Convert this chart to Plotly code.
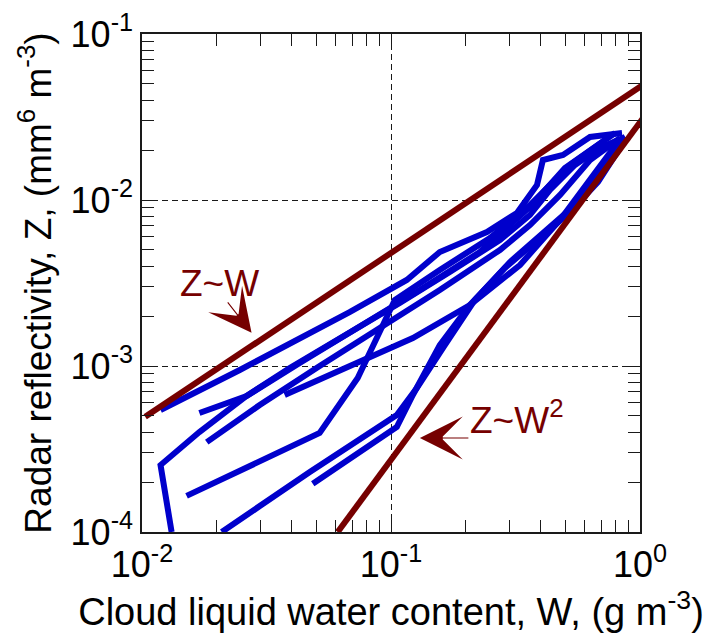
import plotly.graph_objects as go

# ---- data ----
# Blue measured curves: W (g m^-3), Z (mm^6 m^-3)
w_a = [0.01187, 0.0247, 0.0682, 0.1157, 0.157, 0.2427, 0.3205, 0.3858, 0.4074, 0.4907, 0.630, 0.847]
z_a = [0.000543, 0.000946, 0.00211, 0.0033, 0.00486, 0.00641, 0.00835, 0.01231, 0.01742, 0.01867, 0.02396, 0.02533]

w_b = [0.0170, 0.0263, 0.0392, 0.0682, 0.1085, 0.1723, 0.2738, 0.3614, 0.435, 0.548, 0.691, 0.871]
z_b = [0.000521, 0.00066, 0.000973, 0.00158, 0.0024, 0.00368, 0.00574, 0.00812, 0.01149, 0.01625, 0.02057, 0.02396]

w_c = [0.0182, 0.0297, 0.0517, 0.0902, 0.157, 0.2738, 0.3614, 0.4774, 0.630, 0.832]
z_c = [0.000348, 0.000582, 0.001, 0.0017, 0.00287, 0.005, 0.00707, 0.01072, 0.01742, 0.02363]

w_d = [0.0374, 0.0749, 0.1224, 0.2074, 0.3296, 0.4774, 0.630, 0.772, 0.871]
z_d = [0.000669, 0.001057, 0.001475, 0.00233, 0.00406, 0.00758, 0.0132, 0.0200, 0.02396]

w_e = [0.01315, 0.01187, 0.0170, 0.0263, 0.0430, 0.0749, 0.1305, 0.2275, 0.3614, 0.4995, 0.794]
z_e = [0.0001, 0.000253, 0.0004, 0.00066, 0.001043, 0.001718, 0.00287, 0.00486, 0.00908, 0.0156, 0.02533]

w_f = [0.0151, 0.0517, 0.0735, 0.0902, 0.1036, 0.157, 0.2496, 0.3614, 0.5236, 0.724]
z_f = [0.000165, 0.000395, 0.000847, 0.0016, 0.0025, 0.00379, 0.0059, 0.00933, 0.01625, 0.02298]

w_g = [0.0209, 0.0472, 0.1055, 0.127, 0.1645, 0.2173, 0.3003, 0.4153, 0.548, 0.691, 0.871]
z_g = [0.0001, 0.00023, 0.000507, 0.000737, 0.001338, 0.0025, 0.00423, 0.00641, 0.00933, 0.01415, 0.02396]

w_h = [0.0485, 0.1055, 0.1224, 0.157, 0.2074, 0.2868, 0.3963, 0.5236, 0.6786, 0.871]
z_h = [0.000195, 0.000429, 0.000669, 0.001338, 0.00233, 0.0039, 0.0059, 0.00847, 0.01284, 0.02298]

blue_w = [w_a, w_b, w_c, w_d, w_e, w_f, w_g, w_h]
blue_z = [z_a, z_b, z_c, z_d, z_e, z_f, z_g, z_h]

# Reference power laws
zw_w = [0.0103, 1.03]
zw_z = [0.000494, 0.0494]
zw2_w = [0.0611, 1.03]
zw2_z = [0.0001, 0.0312]

# Tick labels
x_tickvals = [0.01, 0.1, 1]
x_ticktext = ["10<sup>-2</sup>", "10<sup>-1</sup>", "10<sup>0</sup>"]
y_tickvals = [0.0001, 0.001, 0.01, 0.1]
y_ticktext = ["10<sup>-4</sup>", "10<sup>-3</sup>", "10<sup>-2</sup>", "10<sup>-1</sup>"]

BLUE = "#0000cc"
BROWN = "#760000"
FONT = "Liberation Sans, Arial, Helvetica, sans-serif"
INK = "#1a1a1a"

fig = go.Figure()
for w, z in zip(blue_w, blue_z):
    fig.add_trace(go.Scatter(x=w, y=z, mode="lines",
                             line=dict(color=BLUE, width=6), showlegend=False))
fig.add_trace(go.Scatter(x=zw_w, y=zw_z, mode="lines",
                         line=dict(color=BROWN, width=6), showlegend=False))
fig.add_trace(go.Scatter(x=zw2_w, y=zw2_z, mode="lines",
                         line=dict(color=BROWN, width=6), showlegend=False))
# invisible trace that activates the mirrored (top/right) tick axes
fig.add_trace(go.Scatter(x=zw_w, y=zw_z, mode="lines", xaxis="x2", yaxis="y2",
                         line=dict(color="rgba(0,0,0,0)", width=0),
                         hoverinfo="skip", showlegend=False))

minor_ticks = dict(ticks="inside", ticklen=12, tickwidth=1.2, tickcolor=INK,
                   tickmode="linear", dtick="D1", showgrid=False)

axis_common = dict(
    type="log",
    showgrid=True, gridcolor=INK, griddash="6px,4px", gridwidth=1,
    ticks="inside", ticklen=12, tickwidth=1.2, tickcolor=INK,
    showline=True, linecolor=INK, linewidth=1.5, mirror=True,
    zeroline=False,
    minor=minor_ticks,
    tickfont=dict(family=FONT, size=36, color="black"),
)
mirror_common = dict(
    type="log", showgrid=False, showline=False, zeroline=False,
    ticks="inside", ticklen=12, tickwidth=1.2, tickcolor=INK,
    showticklabels=False, minor=minor_ticks,
)

fig.update_layout(
    xaxis=dict(range=[-2, 0], tickmode="array", tickvals=x_tickvals, ticktext=x_ticktext,
               **axis_common,
               title=dict(text="Cloud liquid water content, W, (g m<sup>-3</sup>)",
                          font=dict(family=FONT, size=38, color="black"), standoff=0)),
    yaxis=dict(range=[-4, -1], tickmode="array", tickvals=y_tickvals, ticktext=y_ticktext,
               **axis_common,
               title=dict(text="Radar reflectivity, Z, (mm<sup>6</sup> m<sup>-3</sup>)",
                          font=dict(family=FONT, size=37, color="black"), standoff=8)),
    xaxis2=dict(range=[-2, 0], overlaying="x", side="top", anchor="y",
                tickmode="linear", dtick=1, **mirror_common),
    yaxis2=dict(range=[-4, -1], overlaying="y", side="right", anchor="x",
                tickmode="linear", dtick=1, **mirror_common),
)

ann_font = dict(family=FONT, size=37, color=BROWN)
fig.add_annotation(x=-1.857, y=-2.5, xref="x", yref="y", text="Z~W",
                   showarrow=False, xanchor="left", yanchor="middle", font=ann_font)
fig.add_annotation(x=-1.56, y=-2.80, xref="x", yref="y", text="",
                   showarrow=True, ax=-25, ay=-32, arrowhead=3, arrowsize=6.5,
                   arrowwidth=1.1, arrowcolor=BROWN)
fig.add_annotation(x=-0.691, y=-3.313, xref="x", yref="y", text="Z~W<sup>2</sup>",
                   showarrow=False, xanchor="left", yanchor="middle", font=ann_font)
fig.add_annotation(x=-0.884, y=-3.434, xref="x", yref="y", text="",
                   showarrow=True, ax=50, ay=0, arrowhead=3, arrowsize=6.5,
                   arrowwidth=1.1, arrowcolor=BROWN)

fig.update_layout(
    width=712, height=635,
    margin=dict(l=142, r=72, t=34, b=103, autoexpand=False),
    plot_bgcolor="white", paper_bgcolor="white",
    font=dict(family=FONT, color="black"),
)

fig.write_html("out.html")
